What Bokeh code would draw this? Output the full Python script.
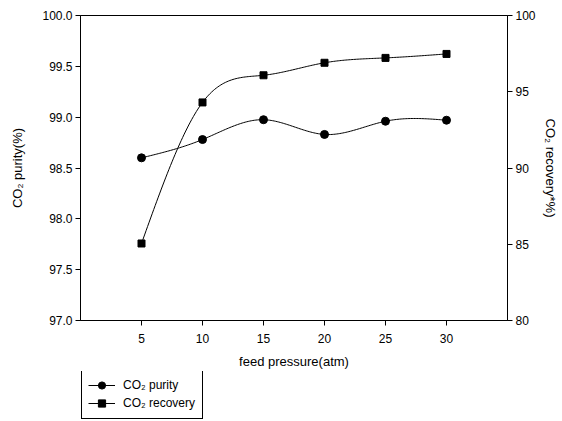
import numpy as np
from bokeh.plotting import figure
from bokeh.layouts import column
from bokeh.models import Range1d, LinearAxis, FixedTicker, Legend, LegendItem, NumeralTickFormatter
from bokeh.embed import file_html
from bokeh.resources import INLINE

# ---- data ----
pressure = [5, 10, 15, 20, 25, 30]
purity = [98.60, 98.78, 98.975, 98.83, 98.96, 98.97]
recovery = [85.05, 94.3, 96.08, 96.9, 97.22, 97.48]

x_ticks = [5, 10, 15, 20, 25, 30]
left_ticks = [97.0, 97.5, 98.0, 98.5, 99.0, 99.5, 100.0]
right_ticks = [80, 85, 90, 95, 100]
series_names = ["CO₂ purity", "CO₂ recovery"]

FONT = "Liberation Sans"


def natural_spline(xs, ys, n=40):
    xs = np.asarray(xs, float)
    ys = np.asarray(ys, float)
    m = len(xs)
    h = np.diff(xs)
    A = np.zeros((m, m))
    b = np.zeros(m)
    A[0, 0] = 1
    A[-1, -1] = 1
    for i in range(1, m - 1):
        A[i, i - 1] = h[i - 1]
        A[i, i] = 2 * (h[i - 1] + h[i])
        A[i, i + 1] = h[i]
        b[i] = 3 * ((ys[i + 1] - ys[i]) / h[i] - (ys[i] - ys[i - 1]) / h[i - 1])
    c = np.linalg.solve(A, b)
    out_x, out_y = [], []
    for i in range(m - 1):
        bb = (ys[i + 1] - ys[i]) / h[i] - h[i] * (2 * c[i] + c[i + 1]) / 3
        d = (c[i + 1] - c[i]) / (3 * h[i])
        t = np.linspace(0, h[i], n, endpoint=(i == m - 2))
        out_x.extend(xs[i] + t)
        out_y.extend(ys[i] + bb * t + c[i] * t ** 2 + d * t ** 3)
    return out_x, out_y


MAIN_H = 371
p = figure(width=562, height=MAIN_H, output_backend="svg", toolbar_location=None,
           x_range=Range1d(0, 35), y_range=Range1d(97.0, 100.0),
           min_border_left=80, min_border_right=55, min_border_top=15, min_border_bottom=MAIN_H - 322,
           background_fill_color="white", border_fill_color="white")
p.extra_y_ranges = {"rec": Range1d(80, 100)}

p.xgrid.visible = False
p.ygrid.visible = False
p.outline_line_color = "black"
p.outline_line_width = 1

def style_axis(ax):
    ax.axis_line_color = "black"
    ax.major_tick_line_color = "black"
    ax.major_tick_out = 5
    ax.major_tick_in = 0
    ax.minor_tick_line_color = None
    ax.major_label_text_font = FONT
    ax.major_label_text_font_size = "12px"
    ax.major_label_text_color = "black"
    ax.axis_label_text_font = FONT
    ax.axis_label_text_font_size = "13px"
    ax.axis_label_text_font_style = "normal"
    ax.axis_label_text_color = "black"

style_axis(p.xaxis[0])
p.xaxis[0].ticker = FixedTicker(ticks=x_ticks)
p.xaxis[0].axis_label = "feed pressure(atm)"
p.xaxis[0].major_label_standoff = 8
p.xaxis[0].axis_label_standoff = 8

style_axis(p.yaxis[0])
p.yaxis[0].ticker = FixedTicker(ticks=left_ticks)
p.yaxis[0].formatter = NumeralTickFormatter(format="0.0")
p.yaxis[0].axis_label = "CO₂ purity(%)"
p.yaxis[0].major_label_standoff = 3
p.yaxis[0].axis_label_standoff = 14

rax = LinearAxis(y_range_name="rec", ticker=FixedTicker(ticks=right_ticks),
                 axis_label="CO₂ recovery*%)")
style_axis(rax)
rax.major_label_standoff = 3
rax.axis_label_standoff = 4
p.add_layout(rax, "right")

# purity
sx, sy = natural_spline(pressure, purity)
p.line(sx, sy, line_color="black", line_width=1)
p.scatter(pressure, purity, marker="circle", size=8, fill_color="black", line_color="black")

# recovery
rx, ry = natural_spline(pressure, recovery)
p.line(rx, ry, line_color="black", line_width=1, y_range_name="rec")
p.scatter(pressure, recovery, marker="square", size=7, fill_color="black", line_color="black",
          y_range_name="rec")

# ---- legend strip below the chart (its renderers lie outside this strip's ranges) ----
LEG_H = 421 - MAIN_H
q = figure(width=562, height=LEG_H, output_backend="svg", toolbar_location=None,
           x_range=Range1d(-2, -1), y_range=Range1d(-2, -1),
           x_axis_type=None, y_axis_type=None,
           min_border_left=0, min_border_right=0, min_border_top=0, min_border_bottom=0,
           background_fill_color="white", border_fill_color="white")
q.xgrid.visible = False
q.ygrid.visible = False
q.outline_line_color = None
ql1 = q.line(pressure, purity, line_color="black", line_width=1)
qm1 = q.scatter(pressure, purity, marker="circle", size=8, fill_color="black", line_color="black")
ql2 = q.line(pressure, recovery, line_color="black", line_width=1)
qm2 = q.scatter(pressure, recovery, marker="square", size=7, fill_color="black", line_color="black")

legend = Legend(items=[LegendItem(label=series_names[0], renderers=[ql1, qm1]),
                       LegendItem(label=series_names[1], renderers=[ql2, qm2])],
                location=(1, LEG_H - 48), orientation="vertical",
                padding=6, spacing=0, margin=0,
                glyph_width=27, glyph_height=18, label_height=18, label_width=73,
                label_standoff=8,
                label_text_font=FONT, label_text_font_size="12px", label_text_color="black",
                border_line_color="black", border_line_width=1, border_line_alpha=1,
                background_fill_color="white", background_fill_alpha=1)
q.add_layout(legend, "center")

layout = column(p, q, spacing=0)
open("out.html", "w").write(file_html(layout, INLINE))
